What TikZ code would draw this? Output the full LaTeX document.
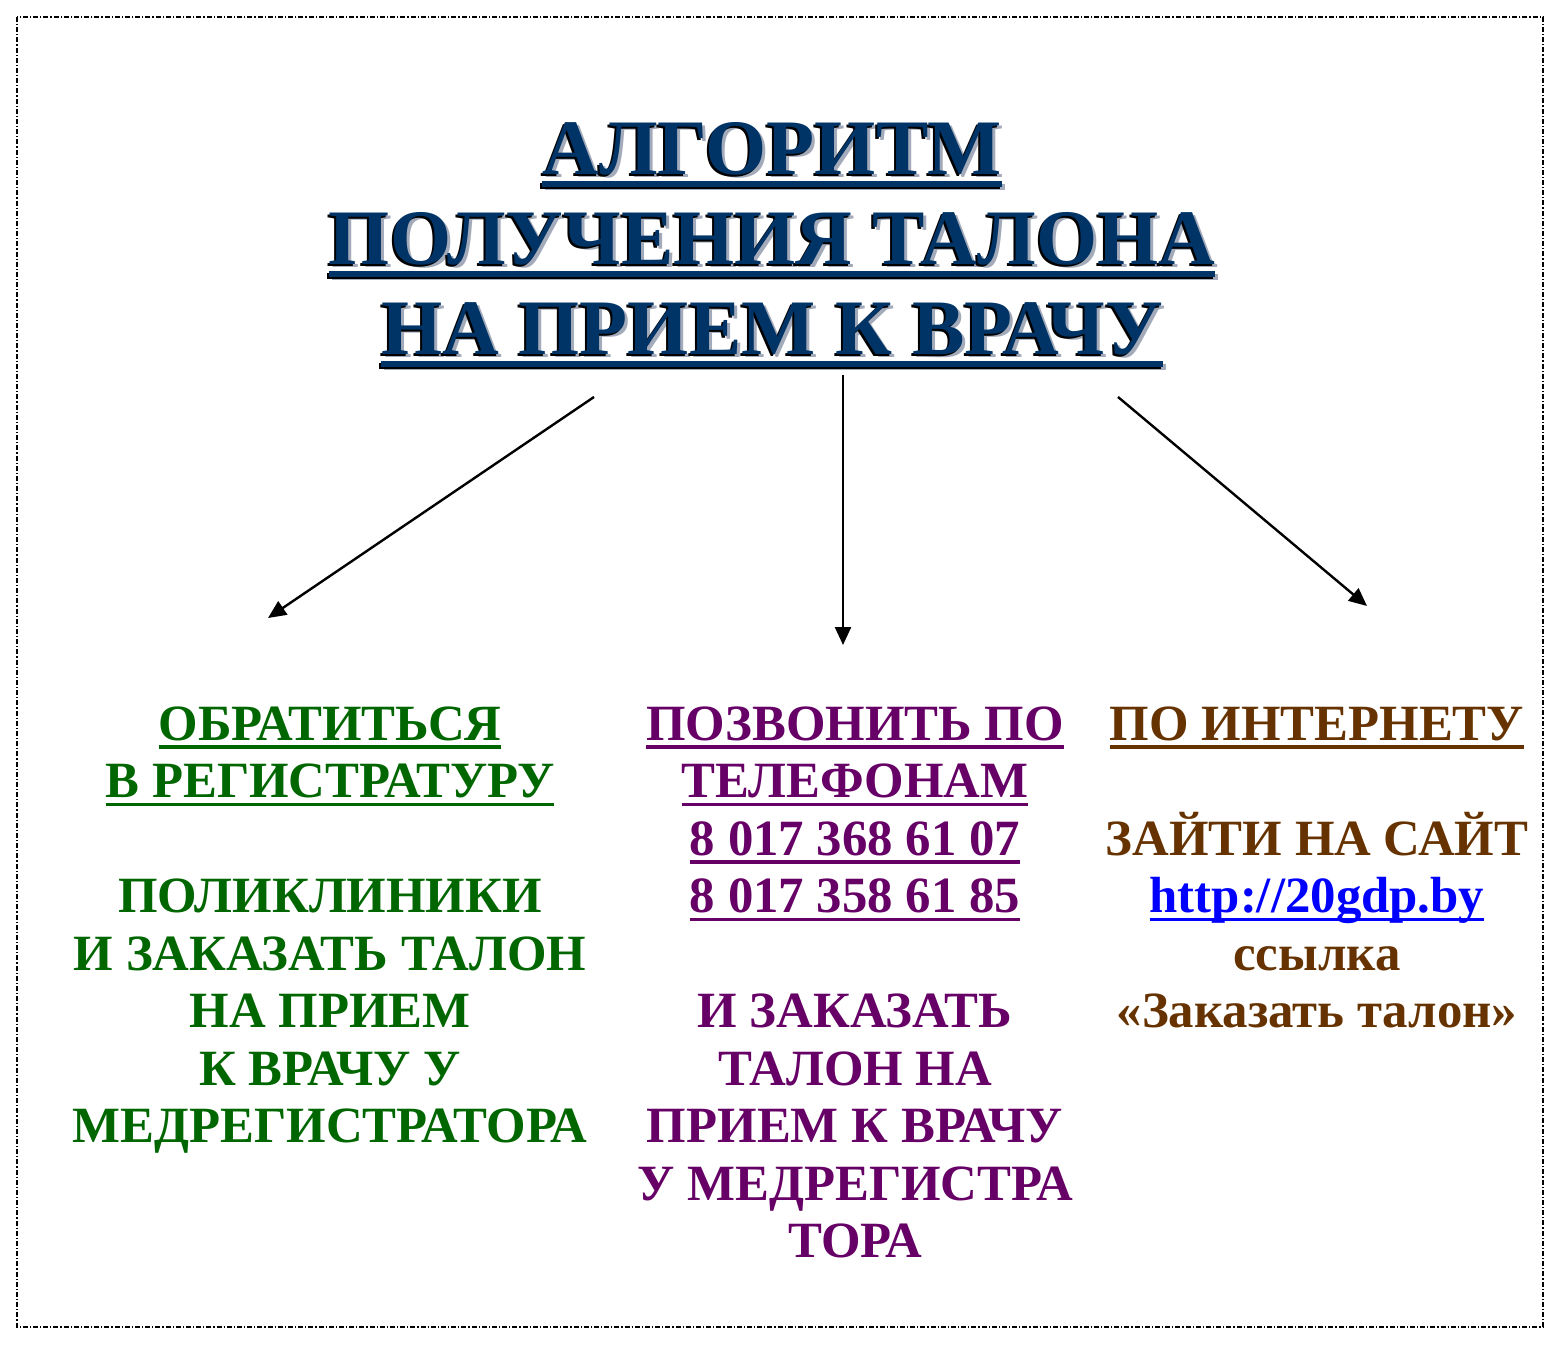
\documentclass[tikz,border=0pt]{standalone}
\usepackage{fontspec}
\setmainfont{Liberation Serif}
\usetikzlibrary{arrows.meta}

\definecolor{titleblue}{HTML}{003366}
\definecolor{titleshade}{HTML}{A3ABBA}
\definecolor{regreen}{HTML}{006600}
\definecolor{telpurple}{HTML}{660066}
\definecolor{webbrown}{HTML}{663300}
\definecolor{linkblue}{HTML}{0000FF}

\newlength{\uldepth}
\newlength{\ulthick}
\newcommand{\ulin}[1]{\setbox0\hbox{#1}%
  \rlap{\rule[-\uldepth]{\wd0}{\ulthick}}\box0}
\newcommand{\titlefont}{\fontsize{39.3}{45}\selectfont\bfseries
  \setlength{\ulthick}{2.8pt}\setlength{\uldepth}{6.2pt}}
\newcommand{\bodyfont}{\fontsize{25.4}{28.75}\selectfont\bfseries
  \setlength{\ulthick}{1.9pt}\setlength{\uldepth}{4.4pt}}
\newcommand{\titletext}{\ulin{АЛГОРИТМ}\\ \ulin{ПОЛУЧЕНИЯ ТАЛОНА}\\ \ulin{НА ПРИЕМ К ВРАЧУ}}

\begin{document}
\begin{tikzpicture}[x=0.5pt,y=-0.5pt,
    >={Triangle[length=9pt,width=8pt]},
    heading/.style={align=center,inner sep=0pt,anchor=north,font=\titlefont},
    column/.style={align=center,inner sep=0pt,anchor=north,font=\bodyfont},
    link/.style={->,line width=1.2pt}]
  \useasboundingbox (0,0) rectangle (1562,1347);

% frame round the page
  \draw[line width=0.8pt,dash pattern=on 2.5pt off 1pt on 0.6pt off 1pt]
    (17,17) rectangle (1543,1327);

% define the title, with its shadow
  \node[heading,text=titleshade] (titleshadow) at (775,125) {\titletext};
  \node[heading,text=black]      (titledark)   at (770,124) {\titletext};
  \node[heading,text=titleblue]  (title)       at (772,122) {\titletext};

% define the three ways
  \node[column,text=regreen] (office) at (330,706)
    {\ulin{ОБРАТИТЬСЯ}\\ \ulin{В РЕГИСТРАТУРУ}\\ \mbox{}\\
     ПОЛИКЛИНИКИ\\ И ЗАКАЗАТЬ ТАЛОН\\ НА ПРИЕМ\\ К ВРАЧУ У\\ МЕДРЕГИСТРАТОРА};
  \node[column,text=telpurple] (phone) at (855,706)
    {\ulin{ПОЗВОНИТЬ ПО}\\ \ulin{ТЕЛЕФОНАМ}\\ \ulin{8 017 368 61 07}\\
     \ulin{8 017 358 61 85}\\ \mbox{}\\ И ЗАКАЗАТЬ\\ ТАЛОН НА\\
     ПРИЕМ К ВРАЧУ\\ У МЕДРЕГИСТРА\\ ТОРА};
  \node[column,text=webbrown] (web) at (1317,706)
    {\ulin{ПО ИНТЕРНЕТУ}\\ \mbox{}\\ ЗАЙТИ НА САЙТ\\
     {\color{linkblue}\ulin{http://20gdp.by}}\\ ссылка\\ «Заказать талон»};

% define the arrow ends
  \coordinate (fromoffice) at (594,397);
  \coordinate (tooffice)   at (268,618);
  \coordinate (fromphone)  at (843,375);
  \coordinate (tophone)    at (843,645);
  \coordinate (fromweb)    at (1118,397);
  \coordinate (toweb)      at (1367,606);

% define the links
  \draw[link] (fromoffice) -- (tooffice);
  \draw[link] (fromphone)  -- (tophone);
  \draw[link] (fromweb)    -- (toweb);
\end{tikzpicture}
\end{document}
